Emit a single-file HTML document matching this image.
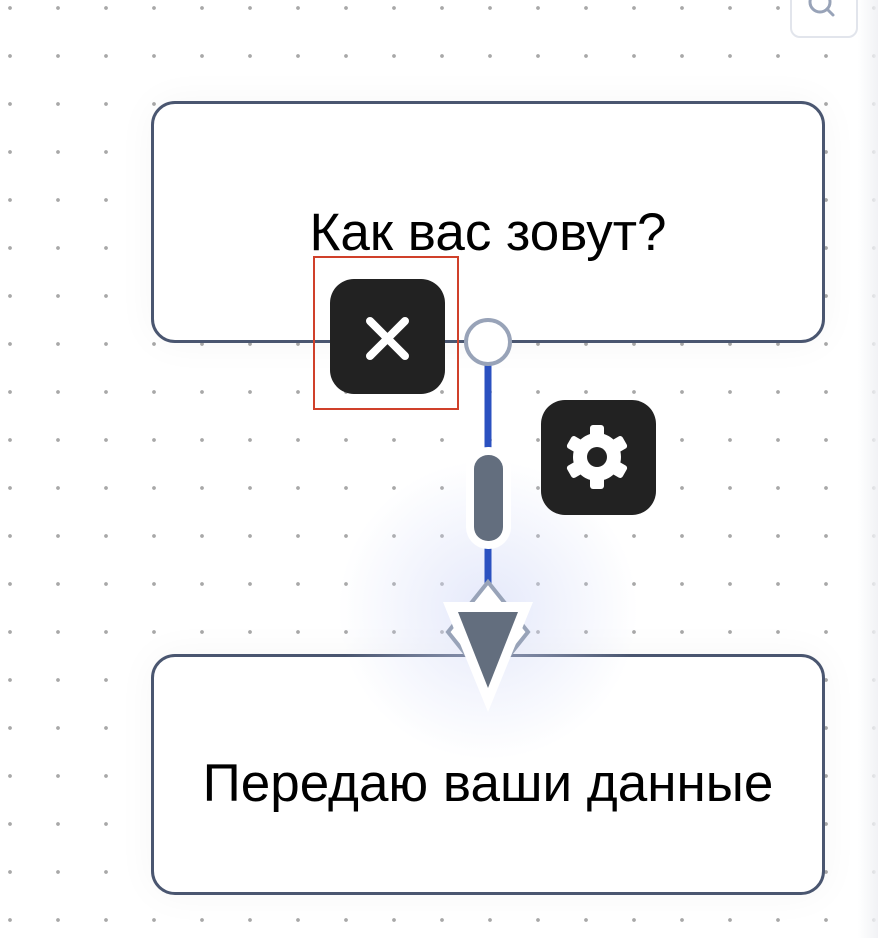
<!DOCTYPE html>
<html><head><meta charset="utf-8"><style>
html,body{margin:0;padding:0;width:878px;height:938px;overflow:hidden;background:#fff;font-family:"Liberation Sans",sans-serif;}
.grid{position:absolute;left:0;top:0;width:878px;height:938px;
background-image:radial-gradient(circle,#a8a8a8 0 1.6px,transparent 2.2px);
background-size:48px 48px;background-position:-14px -16px;}
.node{position:absolute;left:151px;width:674px;border:3.5px solid #4a5670;border-radius:24px;background:#fff;box-sizing:border-box;
box-shadow:0 0 40px rgba(0,0,0,0.04);display:flex;align-items:center;justify-content:center;font-size:53px;color:#000;}
.btn{position:absolute;width:115px;height:115px;background:#222;border-radius:24px;}
</style></head><body>
<div class="grid"></div>
<div style="position:absolute;right:0;top:0;width:20px;height:938px;background:linear-gradient(to right,rgba(240,242,246,0),#f1f2f5);"></div>
<div style="position:absolute;left:790px;top:-20px;width:64px;height:54px;border:2px solid #e2e5ec;border-radius:10px;background:#fff;"></div>
<svg style="position:absolute;left:800px;top:-10px" width="40" height="40"><circle cx="20" cy="12" r="10" fill="none" stroke="#98a3b8" stroke-width="3"/><line x1="27" y1="19" x2="33" y2="25" stroke="#98a3b8" stroke-width="3" stroke-linecap="round"/></svg>
<div class="node" style="top:101px;height:242px;padding-top:20px;">Как вас зовут?</div>
<div class="node" style="top:654px;height:241px;padding-top:18px;">Передаю ваши данные</div>
<svg style="position:absolute;left:0;top:0" width="878" height="938">
<defs><radialGradient id="g"><stop offset="0" stop-color="#d3daf7" stop-opacity="0.6"/><stop offset="1" stop-color="#d3daf7" stop-opacity="0"/></radialGradient></defs>
<ellipse cx="488" cy="610" rx="150" ry="150" fill="url(#g)"/>
<line x1="488" y1="360" x2="488" y2="600" stroke="#2b51c0" stroke-width="7"/>
<circle cx="488" cy="342" r="22" fill="#fff" stroke="#98a3b8" stroke-width="4"/>
<rect x="466" y="447" width="45" height="102" rx="22" fill="#fff"/>
<rect x="474" y="455" width="29" height="86" rx="14" fill="#636e7e"/>
<polygon points="488,582 528,632 488,682 448,632" fill="#fff" stroke="#98a3b8" stroke-width="4"/>
<polygon points="443,602 533,602 488,712" fill="#fff"/>
<polygon points="458,612 518,612 488,688" fill="#636e7e"/>
</svg>
<div class="btn" style="left:330px;top:279px;"></div>
<svg style="position:absolute;left:330px;top:279px" width="115" height="115"><path d="M40 42 L75 77 M75 42 L40 77" stroke="#fff" stroke-width="8" stroke-linecap="round"/></svg>
<div style="position:absolute;left:313px;top:256px;width:142px;height:150px;border:2px solid #d0402a;"></div>
<div class="btn" style="left:541px;top:400px;"></div>
<svg style="position:absolute;left:541px;top:400px" width="115" height="115">
<g transform="translate(56,57)" fill="#fff">
<g id="t"><rect x="-7" y="-32" width="14" height="14" rx="3"/></g>
<use href="#t" transform="rotate(60)"/><use href="#t" transform="rotate(120)"/><use href="#t" transform="rotate(180)"/><use href="#t" transform="rotate(240)"/><use href="#t" transform="rotate(300)"/>
<circle r="24"/></g>
<circle cx="56" cy="57" r="10" fill="#222"/>
</svg>
</body></html>
